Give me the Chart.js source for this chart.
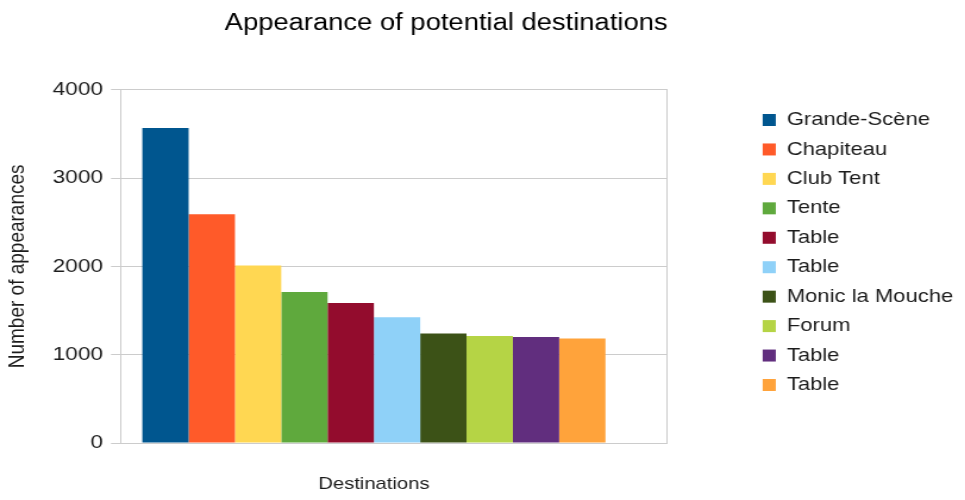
<!DOCTYPE html>
<html>
<head>
<meta charset="utf-8">
<script src="https://cdn.jsdelivr.net/npm/chart.js@4"></script>
<style>
  html, body { margin: 0; padding: 0; background: #ffffff; overflow: hidden; }
  #wrap { width: 965px; height: 500px; }
  #c { transform: scaleX(1.19); transform-origin: 0 0; display: block; }
</style>
</head>
<body>
<div id="wrap"><canvas id="c" width="811" height="500"></canvas></div>
<script>
const TITLE = 'Appearance of potential destinations';
const CATEGORY = 'Destinations';
const Y_TITLE = 'Number of appearances';
const seriesNames = ['Grande-Scène', 'Chapiteau', 'Club Tent', 'Tente', 'Table', 'Table', 'Monic la Mouche', 'Forum', 'Table', 'Table'];
const seriesValues = [3565, 2590, 2010, 1710, 1585, 1425, 1240, 1212, 1200, 1183];
const seriesColors = ['#00568f', '#ff5a29', '#ffd752', '#5fa93d', '#930c2d', '#8fd1f8', '#3c5217', '#b5d445', '#612e7e', '#ffa33b'];
const yTicks = [0, 1000, 2000, 3000, 4000];

// position of the single category on the 0..1 index axis
const CATEGORY_POS = 0.4627;

const FONT = '"Liberation Sans", Arial, Helvetica, sans-serif';
const TEXT = '#1c1c1c';
const GRID = '#cccccc';

const datasets = seriesNames.map((name, i) => ({
  label: name,
  data: [{ x: CATEGORY_POS, y: seriesValues[i] }],
  backgroundColor: seriesColors[i],
  borderWidth: 0
}));

new Chart(document.getElementById('c'), {
  type: 'bar',
  data: { datasets },
  options: {
    responsive: false,
    animation: false,
    devicePixelRatio: 1,
    layout: { padding: { top: 5, bottom: 0, left: 0, right: 0 } },
    datasets: { bar: { categoryPercentage: 0.8474, barPercentage: 1.0 } },
    plugins: {
      title: {
        display: true,
        text: TITLE,
        align: 'end',
        fullSize: false,
        color: '#000000',
        font: { family: FONT, size: 23, weight: 'normal' },
        padding: { top: 5, bottom: 52.1 }
      },
      legend: {
        display: true,
        position: 'right',
        align: 'center',
        maxWidth: 400,
        labels: {
          boxWidth: 11,
          boxHeight: 12,
          padding: 10.94,
          color: TEXT,
          font: { family: FONT, size: 18.5 }
        }
      },
      tooltip: { enabled: false }
    },
    scales: {
      x: {
        type: 'linear',
        min: 0,
        max: 1,
        offset: false,
        grid: { display: false },
        border: { display: false },
        afterBuildTicks: (s) => { s.ticks = [{ value: CATEGORY_POS }]; },
        afterFit: (s) => { s.height = 57; },
        ticks: {
          callback: () => CATEGORY,
          color: TEXT,
          padding: 23,
          maxRotation: 0,
          font: { family: FONT, size: 17 }
        }
      },
      y: {
        min: 0,
        max: 4000,
        afterBuildTicks: (s) => { s.ticks = yTicks.map(v => ({ value: v })); },
        grid: { color: GRID, tickColor: GRID, tickLength: 8.4, lineWidth: 1 },
        border: { display: true, color: GRID },
        ticks: {
          color: TEXT,
          padding: 6.7,
          callback: (v) => String(v),
          font: { family: FONT, size: 19 }
        },
        title: {
          display: true,
          text: Y_TITLE,
          color: TEXT,
          font: { family: FONT, size: 19 },
          padding: { top: 3.6, bottom: 11.2 }
        }
      },
      y2: {
        position: 'right',
        display: true,
        grid: { display: false },
        ticks: { display: false },
        border: { display: true, color: GRID },
        afterFit: (s) => { s.width = 69; }
      }
    }
  }
});
</script>
</body>
</html>
